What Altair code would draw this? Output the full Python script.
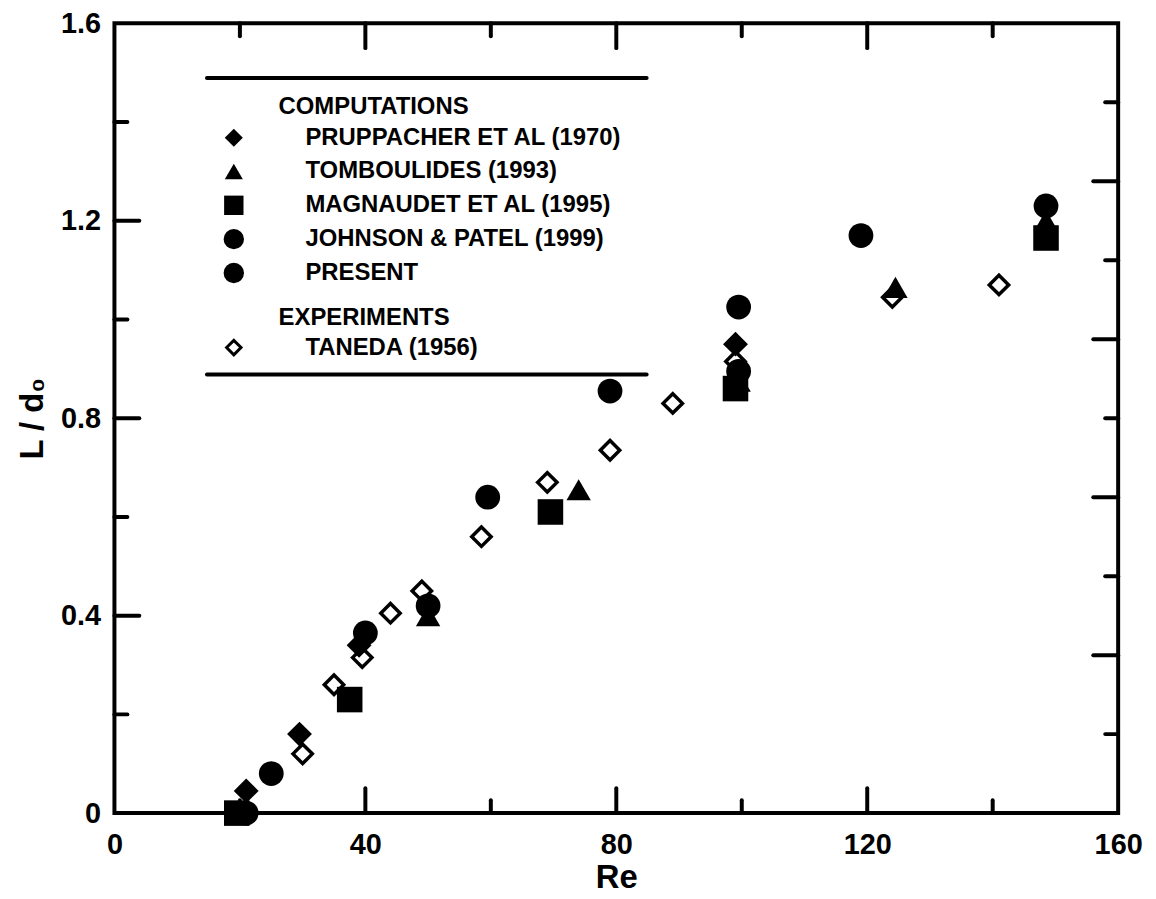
import altair as alt
import pandas as pd

# ---------------- data ----------------
prup_re = [21, 29.5, 39, 99]
prup_l = [0.045, 0.16, 0.34, 0.95]

tomb_re = [50, 74, 99.5, 124.5, 148.5]
tomb_l = [0.40, 0.655, 0.875, 1.065, 1.20]

magn_re = [19.5, 37.5, 69.5, 99, 148.5]
magn_l = [0.0, 0.23, 0.61, 0.86, 1.165]

john_re = [21, 40, 50, 99.5, 148.5]
john_l = [0.0, 0.365, 0.42, 0.895, 1.23]

pres_re = [25, 59.5, 79, 99.5, 119]
pres_l = [0.08, 0.64, 0.855, 1.025, 1.17]

tane_re = [30, 35, 39.5, 44, 49, 58.5, 69, 79, 89, 99, 124, 141]
tane_l = [0.12, 0.26, 0.315, 0.405, 0.45, 0.56, 0.67, 0.735, 0.83, 0.915, 1.045, 1.07]

x_labels = [0, 40, 80, 120, 160]
y_labels = [0, 0.4, 0.8, 1.2, 1.6]
x_major_ticks = [40, 80, 120]
x_minor_ticks = [20, 60, 100, 140]
y_major_ticks = [0.4, 0.8, 1.2]
y_minor_ticks = [0.2, 0.6, 1.0, 1.4]
right_major_ticks = [0.32, 0.64, 0.96, 1.28]
right_minor_ticks = [0.16, 0.48, 0.80, 1.12, 1.44]

legend_heads = ["COMPUTATIONS", "EXPERIMENTS"]
legend_names = [
    "PRUPPACHER ET AL (1970)",
    "TOMBOULIDES (1993)",
    "MAGNAUDET ET AL (1995)",
    "JOHNSON & PATEL (1999)",
    "PRESENT",
    "TANEDA (1956)",
]

# ---------------- layout / style ----------------
W, H = 1009, 794
FONT = "Liberation Sans"
MAJOR, MINOR = 25, 13

xscale = alt.Scale(domain=[0, 160], nice=False, zero=False)
yscale = alt.Scale(domain=[0, 1.6], nice=False, zero=False)

xaxis = alt.Axis(values=x_labels, title="Re", format="d", labelFlush=False,
                 labelPadding=18, titlePadding=2, labelOverlap=False)
yaxis = alt.Axis(values=y_labels, title="L / d\u2080", format="~g", labelFlush=False,
                 labelPadding=14, titlePadding=11, labelOverlap=False)


def X(field="Re"):
    return alt.X(f"{field}:Q", scale=xscale, axis=xaxis)


def Y(field="L"):
    return alt.Y(f"{field}:Q", scale=yscale, axis=yaxis)


layers = []

# ---- inward ticks on all four sides ----
def xticks(vals, length, top=False):
    df = pd.DataFrame({"Re": vals})
    if top:
        enc = dict(y=alt.value(0), y2=alt.value(length))
    else:
        enc = dict(y=alt.value(H), y2=alt.value(H - length))
    return alt.Chart(df).mark_rule(color="black", strokeWidth=4, strokeCap="round").encode(x=X(), **enc)


def yticks(vals, length, right=False):
    df = pd.DataFrame({"L": vals})
    if right:
        enc = dict(x=alt.value(W), x2=alt.value(W - length))
    else:
        enc = dict(x=alt.value(0), x2=alt.value(length))
    return alt.Chart(df).mark_rule(color="black", strokeWidth=4, strokeCap="round").encode(y=Y(), **enc)


layers += [
    xticks(x_major_ticks, MAJOR), xticks(x_minor_ticks, MINOR),
    xticks(x_major_ticks, MAJOR, top=True), xticks(x_minor_ticks, MINOR, top=True),
    yticks(y_major_ticks, MAJOR), yticks(y_minor_ticks, MINOR),
    yticks(right_major_ticks, MAJOR, right=True), yticks(right_minor_ticks, MINOR, right=True),
]

# ---- data markers ----
def series(re, l):
    return pd.DataFrame({"Re": re, "L": l})


layers.append(
    alt.Chart(series(tane_re, tane_l)).mark_point(shape="diamond", size=380, filled=False,
                                                  color="black", fill="white", strokeWidth=3.5, opacity=1)
    .encode(x=X(), y=Y())
)
for re, l, shp, sz in [
    (prup_re, prup_l, "diamond", 625),
    (tomb_re, tomb_l, "triangle-up", 600),
    (magn_re, magn_l, "square", 660),
    (john_re, john_l, "circle", 620),
    (pres_re, pres_l, "circle", 620),
]:
    layers.append(
        alt.Chart(series(re, l)).mark_point(shape=shp, size=sz, filled=True, color="black", opacity=1)
        .encode(x=X(), y=Y())
    )

# ---- legend box (drawn inside the plot) ----
for yy in [55, 353]:
    layers.append(
        alt.Chart(pd.DataFrame({"k": [0]})).mark_rule(color="black", strokeWidth=4, strokeCap="round")
        .encode(x=alt.value(93), x2=alt.value(535), y=alt.value(yy))
    )

head_y = [84, 296]
for txt, yy in zip(legend_heads, head_y):
    layers.append(
        alt.Chart(pd.DataFrame({"t": [txt]})).mark_text(align="left", baseline="middle", font=FONT,
                                                       fontSize=24, fontWeight="bold", color="black")
        .encode(text="t:N", x=alt.value(165), y=alt.value(yy))
    )

name_y = [115, 149, 183, 217, 251, 326]
sym = [("diamond", 330, True), ("triangle-up", 330, True), ("square", 380, True),
       ("circle", 420, True), ("circle", 420, True), ("diamond", 210, False)]
for txt, yy, (shp, sz, fil) in zip(legend_names, name_y, sym):
    layers.append(
        alt.Chart(pd.DataFrame({"t": [txt]})).mark_text(align="left", baseline="middle", font=FONT,
                                                       fontSize=24, fontWeight="bold", color="black")
        .encode(text="t:N", x=alt.value(192), y=alt.value(yy))
    )
    if fil:
        m = alt.Chart(pd.DataFrame({"t": [txt]})).mark_point(shape=shp, size=sz, filled=True,
                                                            color="black", opacity=1)
    else:
        m = alt.Chart(pd.DataFrame({"t": [txt]})).mark_point(shape=shp, size=sz, filled=False,
                                                            color="black", fill="white",
                                                            strokeWidth=3, opacity=1)
    layers.append(m.encode(x=alt.value(120), y=alt.value(yy)))

chart = (
    alt.layer(*layers)
    .properties(width=W, height=H, autosize=alt.AutoSizeParams(type="none"),
                padding={"left": 107, "top": 13, "right": 30, "bottom": 84},
                background="white")
    .configure_view(stroke="black", strokeWidth=4)
    .configure_axis(domain=False, ticks=False, grid=False,
                    labelFont=FONT, labelFontSize=29, labelFontWeight="bold", labelColor="black",
                    titleFont=FONT, titleFontSize=33, titleFontWeight="bold", titleColor="black")
)

chart.save("out.html", embed_options={"renderer": "svg", "actions": False})
